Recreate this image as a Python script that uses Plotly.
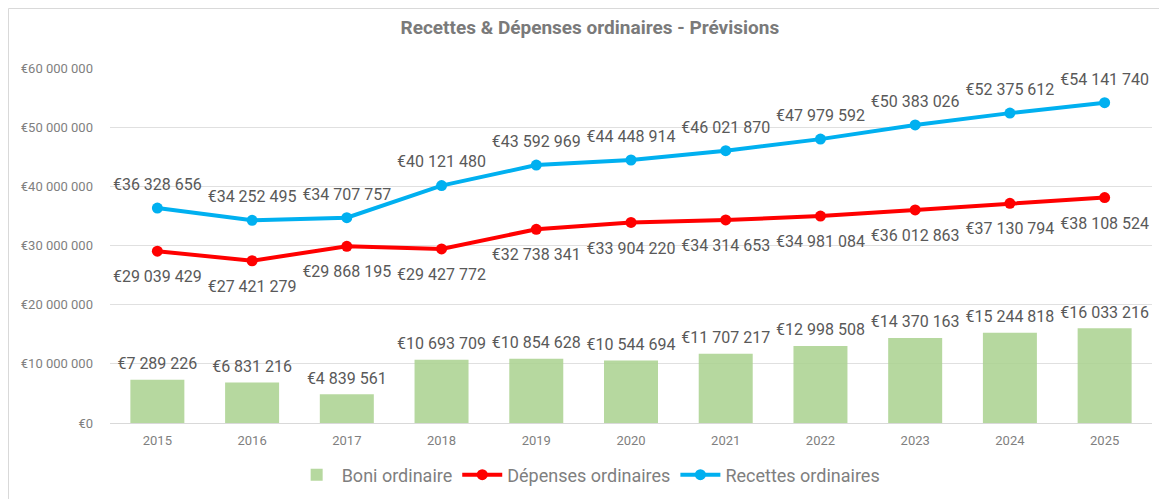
import plotly.graph_objects as go

years = ["2015", "2016", "2017", "2018", "2019", "2020", "2021", "2022", "2023", "2024", "2025"]
boni = [7289226, 6831216, 4839561, 10693709, 10854628, 10544694, 11707217, 12998508, 14370163, 15244818, 16033216]
depenses = [29039429, 27421279, 29868195, 29427772, 32738341, 33904220, 34314653, 34981084, 36012863, 37130794, 38108524]
recettes = [36328656, 34252495, 34707757, 40121480, 43592969, 44448914, 46021870, 47979592, 50383026, 52375612, 54141740]

FONT = "Roboto"
LBL = "#595959"
TRANSP = "rgba(0,0,0,0)"

fig = go.Figure()
fig.add_trace(go.Bar(
    x=years, y=boni, name="Boni ordinaire",
    marker=dict(color="rgba(169,209,142,0.85)", line=dict(width=0)),
    hovertemplate="€%{y:,.0f}<extra>Boni ordinaire</extra>",
))
fig.add_trace(go.Scatter(
    x=years, y=depenses, name="Dépenses ordinaires", mode="lines+markers",
    line=dict(color="#ff0000", width=4), marker=dict(size=11, color="#ff0000"),
))
fig.add_trace(go.Scatter(
    x=years, y=recettes, name="Recettes ordinaires", mode="lines+markers",
    line=dict(color="#00b0f0", width=4), marker=dict(size=11, color="#00b0f0"),
))

# data labels (invisible markers only control the label offset)
for vals, pos, size in [(boni, "top center", 9), (depenses, "bottom center", 29), (recettes, "top center", 21)]:
    fig.add_trace(go.Scatter(
        x=years, y=vals, mode="markers+text", showlegend=False, hoverinfo="skip",
        marker=dict(size=size, color=TRANSP),
        text=vals, texttemplate="€%{y:,.0f}", textposition=pos,
        textfont=dict(size=16, color=LBL, family=FONT), cliponaxis=False,
    ))

fig.update_layout(
    width=1159, height=491,
    separators=", ",
    paper_bgcolor="white", plot_bgcolor="white",
    font=dict(family=FONT, color=LBL),
    margin=dict(l=102, r=15, t=60, b=76, autoexpand=False),
    title=dict(text="<b>Recettes & Dépenses ordinaires - Prévisions</b>",
               x=0.502, xanchor="center", y=0.961, yanchor="middle",
               font=dict(size=19, color="#7a7a7a", family=FONT)),
    bargap=0.43,
    showlegend=True,
    legend=dict(orientation="h", x=0.501, xanchor="center", xref="container",
                y=0.049, yanchor="middle", yref="container",
                bgcolor="rgba(0,0,0,0)",
                font=dict(size=18, color="#7f7f7f", family=FONT),
                itemwidth=40, traceorder="normal"),
    xaxis=dict(range=[-0.5, 10.5], showgrid=False, showline=True, linecolor="#d9d9d9", linewidth=1,
               ticks="", tickfont=dict(size=13, color="#7f7f7f"), ticklabelstandoff=5),
    yaxis=dict(range=[0, 60000000], dtick=10000000, tickprefix="€", tickformat=",.0f",
               showgrid=True, gridcolor="#e0e0e0", gridwidth=1, zeroline=False,
               tickfont=dict(size=13, color="#7f7f7f"), ticklabelstandoff=16),
    shapes=[
        dict(type="line", xref="paper", yref="paper", x0=-0.0974, x1=-0.0974, y0=1.1676, y1=-0.214,
             line=dict(color="#d9d9d9", width=1), layer="below"),
        dict(type="line", xref="paper", yref="paper", x0=-0.0974, x1=1.02, y0=1.1676, y1=1.1676,
             line=dict(color="#d9d9d9", width=1), layer="below"),
    ],
)

fig.write_html("out.html")
